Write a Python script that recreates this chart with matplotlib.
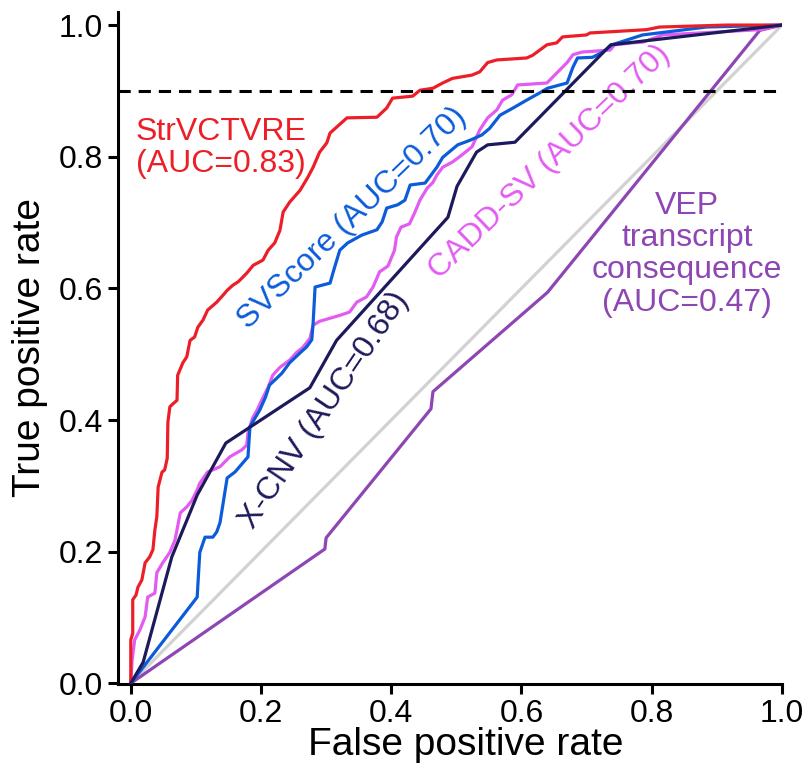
import matplotlib
matplotlib.use("Agg")
import matplotlib.pyplot as plt

plt.rcParams["font.family"] = ["Liberation Sans", "DejaVu Sans"]

# ROC vertices (false positive rate, true positive rate)
strvctvre_fpr = [0, 0, 0.003, 0.003, 0.008, 0.011, 0.017, 0.022, 0.029, 0.034, 0.037, 0.040,
                 0.042, 0.048, 0.052, 0.056, 0.057, 0.060, 0.063, 0.071, 0.072, 0.080, 0.086,
                 0.091, 0.098, 0.103, 0.111, 0.118, 0.132, 0.142, 0.148, 0.157, 0.165, 0.178,
                 0.188, 0.203, 0.211, 0.221, 0.229, 0.234, 0.244, 0.260, 0.272, 0.280, 0.290,
                 0.301, 0.306, 0.332, 0.378, 0.393, 0.402, 0.433, 0.444, 0.464, 0.479, 0.494,
                 0.524, 0.536, 0.548, 0.562, 0.608, 0.617, 0.628, 0.639, 0.654, 0.663, 0.700,
                 0.705, 0.792, 0.812, 0.915, 1.0]
strvctvre_tpr = [0, 0.066, 0.076, 0.127, 0.134, 0.146, 0.157, 0.183, 0.192, 0.203, 0.233, 0.253,
                 0.298, 0.321, 0.324, 0.342, 0.397, 0.420, 0.423, 0.430, 0.468, 0.487, 0.496,
                 0.521, 0.526, 0.541, 0.552, 0.567, 0.579, 0.590, 0.597, 0.605, 0.610, 0.623,
                 0.635, 0.643, 0.658, 0.669, 0.688, 0.716, 0.731, 0.749, 0.769, 0.784, 0.807,
                 0.821, 0.836, 0.859, 0.860, 0.874, 0.889, 0.892, 0.901, 0.904, 0.912, 0.919,
                 0.924, 0.929, 0.943, 0.947, 0.950, 0.954, 0.962, 0.970, 0.973, 0.982, 0.985,
                 0.988, 0.993, 0.997, 1.0, 1.0]

svscore_fpr = [0, 0.102, 0.103, 0.106, 0.114, 0.126, 0.132, 0.137, 0.148, 0.160, 0.180, 0.183,
               0.198, 0.207, 0.213, 0.232, 0.244, 0.260, 0.270, 0.278, 0.280, 0.283, 0.306,
               0.313, 0.321, 0.333, 0.355, 0.378, 0.386, 0.393, 0.410, 0.421, 0.429, 0.452,
               0.470, 0.479, 0.502, 0.521, 0.539, 0.551, 0.559, 0.567, 0.587, 0.608, 0.628,
               0.640, 0.670, 0.679, 0.686, 0.709, 0.725, 0.739, 0.786, 0.884, 1.0]
svscore_tpr = [0, 0.131, 0.149, 0.199, 0.222, 0.222, 0.230, 0.244, 0.312, 0.321, 0.344, 0.390,
               0.415, 0.435, 0.453, 0.471, 0.487, 0.502, 0.511, 0.522, 0.547, 0.602, 0.608,
               0.632, 0.658, 0.669, 0.681, 0.689, 0.701, 0.722, 0.727, 0.734, 0.757, 0.760,
               0.784, 0.799, 0.818, 0.825, 0.833, 0.843, 0.853, 0.863, 0.874, 0.886, 0.897,
               0.904, 0.912, 0.936, 0.950, 0.951, 0.959, 0.970, 0.985, 0.997, 1.0]

caddsv_fpr = [0, 0.002, 0.006, 0.014, 0.022, 0.026, 0.037, 0.040, 0.049, 0.060, 0.068, 0.076,
              0.086, 0.094, 0.102, 0.106, 0.118, 0.137, 0.152, 0.171, 0.178, 0.180, 0.187,
              0.194, 0.201, 0.211, 0.218, 0.229, 0.244, 0.255, 0.264, 0.275, 0.280, 0.290,
              0.321, 0.336, 0.347, 0.362, 0.372, 0.382, 0.395, 0.405, 0.408, 0.415, 0.428,
              0.436, 0.444, 0.455, 0.464, 0.470, 0.479, 0.494, 0.505, 0.524, 0.536, 0.548,
              0.562, 0.571, 0.585, 0.594, 0.639, 0.648, 0.659, 0.670, 0.679, 0.693, 0.736,
              0.743, 0.771, 0.786, 0.817, 0.874, 0.966, 1.0]
caddsv_tpr = [0, 0.035, 0.066, 0.081, 0.101, 0.131, 0.137, 0.168, 0.183, 0.199, 0.218, 0.259,
              0.268, 0.278, 0.294, 0.304, 0.321, 0.329, 0.344, 0.355, 0.362, 0.380, 0.403,
              0.415, 0.430, 0.450, 0.468, 0.480, 0.491, 0.503, 0.510, 0.524, 0.544, 0.550,
              0.559, 0.564, 0.579, 0.587, 0.602, 0.625, 0.634, 0.658, 0.678, 0.693, 0.698,
              0.715, 0.734, 0.752, 0.761, 0.772, 0.784, 0.792, 0.800, 0.815, 0.841, 0.859,
              0.871, 0.886, 0.894, 0.909, 0.912, 0.921, 0.932, 0.943, 0.955, 0.959, 0.962,
              0.970, 0.973, 0.974, 0.985, 0.988, 0.993, 1.0]

xcnv_fpr = [0, 0.019, 0.063, 0.102, 0.146, 0.275, 0.316, 0.487, 0.501, 0.531, 0.548, 0.590, 0.737, 1.0]
xcnv_tpr = [0, 0.032, 0.192, 0.286, 0.365, 0.449, 0.521, 0.708, 0.755, 0.807, 0.818, 0.822, 0.970, 1.0]

vep_fpr = [0, 0.298, 0.300, 0.461, 0.464, 0.640, 0.966, 1.0]
vep_tpr = [0, 0.204, 0.221, 0.417, 0.443, 0.594, 0.992, 1.0]

RED = "#ec1f28"
BLUE = "#0b5cdb"
PINK = "#e35cf2"
NAVY = "#1d1a5c"
PURPLE = "#8d46b3"
GREY = "#d2d2d2"


def main() -> None:
    fig = plt.figure(figsize=(8.1, 7.76), dpi=100)
    ax = fig.add_axes([0.1457, 0.1186, 0.8197, 0.8659])

    lw = 2.3
    ax.plot([0, 1], [0, 1], color=GREY, linewidth=lw, zorder=1)
    ax.axhline(0.9, color="black", linewidth=2.2, linestyle=(0, (4, 2.6)), zorder=6)
    ax.plot(vep_fpr, vep_tpr, color=PURPLE, linewidth=lw, zorder=2)
    ax.plot(xcnv_fpr, xcnv_tpr, color=NAVY, linewidth=lw, zorder=5)
    ax.plot(caddsv_fpr, caddsv_tpr, color=PINK, linewidth=lw, zorder=3)
    ax.plot(svscore_fpr, svscore_tpr, color=BLUE, linewidth=lw, zorder=4)
    ax.plot(strvctvre_fpr, strvctvre_tpr, color=RED, linewidth=lw, zorder=4)

    fs = 23
    ax.text(0.138, 0.813, "StrVCTVRE\n(AUC=0.83)", color=RED, fontsize=fs,
            ha="center", va="center", linespacing=1.1)
    ax.text(0.340, 0.707, "SVScore (AUC=0.70)", color=BLUE, fontsize=fs,
            ha="center", va="center", rotation=44, rotation_mode="anchor")
    ax.text(0.644, 0.792, "CADD-SV (AUC=0.70)", color=PINK, fontsize=fs,
            ha="center", va="center", rotation=44, rotation_mode="anchor")
    ax.text(0.298, 0.415, "X-CNV (AUC=0.68)", color=NAVY, fontsize=fs,
            ha="center", va="center", rotation=56, rotation_mode="anchor")
    ax.text(0.854, 0.652, "VEP\ntranscript\nconsequence\n(AUC=0.47)", color=PURPLE,
            fontsize=fs, ha="center", va="center", linespacing=1.1)

    ax.set_xlim(-0.0196, 1.0)
    ax.set_ylim(-0.001, 1.0198)
    ticks = [0, 0.2, 0.4, 0.6, 0.8, 1.0]
    ax.set_xticks(ticks)
    ax.set_yticks(ticks)
    ax.set_xticklabels([f"{t:.1f}" for t in ticks])
    ax.set_yticklabels([f"{t:.1f}" for t in ticks])
    ax.tick_params(labelsize=23, width=2.2, length=7, direction="out", pad=4)
    ax.spines[["top", "right"]].set_visible(False)
    for side in ["left", "bottom"]:
        ax.spines[side].set_linewidth(2.2)
    ax.set_xlabel("False positive rate", fontsize=28, va="center")
    ax.set_ylabel("True positive rate", fontsize=28, va="center")
    ax.xaxis.set_label_coords(0.523, -0.091)
    ax.yaxis.set_label_coords(-0.132, 0.5)

    fig.savefig("out.png", dpi=100)
    plt.close(fig)


if __name__ == "__main__":
    main()
